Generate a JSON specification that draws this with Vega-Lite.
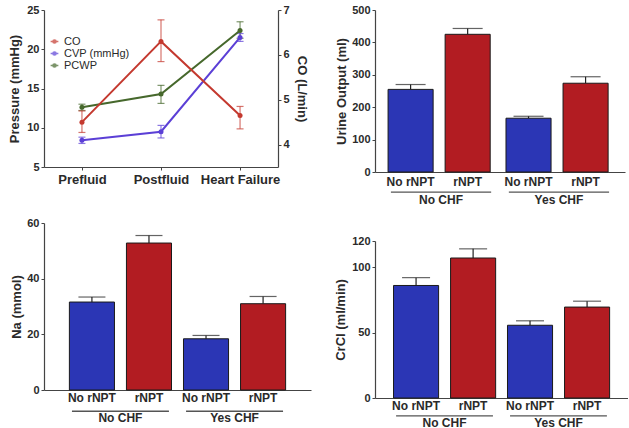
{
  "$schema": "https://vega.github.io/schema/vega-lite/v6.json",
  "background": "white",
  "padding": {"left": 8, "top": 4, "right": 0, "bottom": 0},
  "config": {
    "font": "Liberation Sans",
    "view": {"stroke": null},
    "axis": {
      "labelFont": "Liberation Sans", "labelFontWeight": "bold", "labelFontSize": 11, "labelColor": "#2a2a2a",
      "titleFont": "Liberation Sans", "titleFontWeight": "bold", "titleFontSize": 13, "titleColor": "#2a2a2a",
      "domainColor": "#444", "tickColor": "#444", "tickSize": 3, "labelPadding": 2, "grid": false, "domainWidth": 1.2,
      "labelOverlap": false
    }
  },
  "spacing": 23,
  "resolve": {"scale": {"color": "independent"}, "legend": {"color": "independent"}},
  "hconcat": [
    {
      "spacing": 31,
      "resolve": {"scale": {"color": "independent"}, "legend": {"color": "independent"}},
      "vconcat": [
        {
          "width": 234, "height": 157,
          "data": {"values": [
            {"series": "CO", "time": "Prefluid", "mean": 4.5, "lo": 4.27, "hi": 4.75},
            {"series": "CO", "time": "Postfluid", "mean": 6.3, "lo": 5.85, "hi": 6.78},
            {"series": "CO", "time": "Heart Failure", "mean": 4.65, "lo": 4.35, "hi": 4.85},
            {"series": "CVP (mmHg)", "time": "Prefluid", "mean": 8.4, "lo": 8.0, "hi": 8.8},
            {"series": "CVP (mmHg)", "time": "Postfluid", "mean": 9.5, "lo": 8.7, "hi": 10.3},
            {"series": "CVP (mmHg)", "time": "Heart Failure", "mean": 21.5, "lo": 21.0, "hi": 22.0},
            {"series": "PCWP", "time": "Prefluid", "mean": 12.6, "lo": 12.2, "hi": 13.0},
            {"series": "PCWP", "time": "Postfluid", "mean": 14.3, "lo": 13.1, "hi": 15.4},
            {"series": "PCWP", "time": "Heart Failure", "mean": 22.4, "lo": 21.4, "hi": 23.5}
          ]},
          "encoding": {
            "x": {"field": "time", "type": "nominal", "sort": ["Prefluid", "Postfluid", "Heart Failure"],
                  "scale": {"type": "point", "padding": 0.48},
                  "axis": {"title": null, "labelAngle": 0, "labelFontSize": 13, "labelPadding": 3}},
            "color": {"field": "series", "type": "nominal",
                      "scale": {"domain": ["CO", "CVP (mmHg)", "PCWP"], "range": ["#c4392f", "#5b3fd6", "#46682c"]},
                      "legend": {"title": null, "orient": "none", "legendX": 5, "legendY": 26,
                                 "labelFontSize": 11, "labelFontWeight": "normal", "labelColor": "#2a2a2a",
                                 "symbolType": "M-1,0H1M0.4,0A0.4,0.4,0,1,1,-0.4,0A0.4,0.4,0,1,1,0.4,0",
                                 "symbolSize": 60, "symbolStrokeWidth": 1.6, "rowPadding": 0, "labelOffset": 4}}
          },
          "layer": [
            {
              "transform": [{"filter": "datum.series != 'CO'"}],
              "encoding": {
                "y": {"field": "mean", "type": "quantitative", "title": "Pressure (mmHg)",
                      "scale": {"domain": [5, 25], "nice": false},
                      "axis": {"values": [5, 10, 15, 20, 25], "tickCount": 10, "format": "d", "titlePadding": 5}}
              },
              "layer": [
                {"mark": {"type": "rule", "strokeWidth": 1.2, "opacity": 0.7},
                 "encoding": {"y": {"field": "lo", "type": "quantitative", "title": "Pressure (mmHg)"}, "y2": {"field": "hi"}}},
                {"mark": {"type": "tick", "size": 7, "thickness": 1.2, "opacity": 0.7},
                 "encoding": {"y": {"field": "lo", "type": "quantitative", "title": "Pressure (mmHg)"}}},
                {"mark": {"type": "tick", "size": 7, "thickness": 1.2, "opacity": 0.7},
                 "encoding": {"y": {"field": "hi", "type": "quantitative", "title": "Pressure (mmHg)"}}},
                {"mark": {"type": "line", "strokeWidth": 2}},
                {"mark": {"type": "point", "filled": true, "size": 25, "opacity": 1}}
              ]
            },
            {
              "transform": [{"filter": "datum.series == 'CO'"}],
              "encoding": {
                "y": {"field": "mean", "type": "quantitative", "title": "CO (L/min)",
                      "scale": {"domain": [3.5, 7], "nice": false},
                      "axis": {"orient": "right", "values": [4, 5, 6, 7], "format": "d", "titlePadding": 5}}
              },
              "layer": [
                {"mark": {"type": "rule", "strokeWidth": 1.2, "opacity": 0.7},
                 "encoding": {"y": {"field": "lo", "type": "quantitative", "title": "CO (L/min)"}, "y2": {"field": "hi"}}},
                {"mark": {"type": "tick", "size": 7, "thickness": 1.2, "opacity": 0.7},
                 "encoding": {"y": {"field": "lo", "type": "quantitative", "title": "CO (L/min)"}}},
                {"mark": {"type": "tick", "size": 7, "thickness": 1.2, "opacity": 0.7},
                 "encoding": {"y": {"field": "hi", "type": "quantitative", "title": "CO (L/min)"}}},
                {"mark": {"type": "line", "strokeWidth": 2}},
                {"mark": {"type": "point", "filled": true, "size": 25, "opacity": 1}}
              ]
            }
          ],
          "resolve": {"scale": {"y": "independent"}}
        },
        {
          "width": 267, "height": 167,
          "data": {"values": [
            {"grp": "No CHF", "trt": "No rNPT", "val": 31.6, "hi": 33.4},
            {"grp": "No CHF", "trt": "rNPT", "val": 52.8, "hi": 55.5},
            {"grp": "Yes CHF", "trt": "No rNPT", "val": 18.4, "hi": 19.6},
            {"grp": "Yes CHF", "trt": "rNPT", "val": 31.0, "hi": 33.6}
          ]},
          "encoding": {
            "x": {"field": "grp", "type": "nominal", "sort": ["No CHF", "Yes CHF"],
                  "scale": {"paddingInner": 0, "paddingOuter": 0.17},
                  "axis": {"title": null, "labelAngle": 0, "ticks": false, "labelPadding": 22, "labelFontSize": 12}}
          },
          "layer": [
            {"mark": {"type": "rule", "color": "#222", "strokeWidth": 1.2},
             "encoding": {"xOffset": {"field": "trt", "type": "nominal", "sort": ["No rNPT", "rNPT"], "scale": {"paddingInner": 0.21, "paddingOuter": 0.105}},
                          "y": {"field": "val", "type": "quantitative", "title": "Na  (mmol)", "scale": {"domain": [0, 60], "nice": false},
                                "axis": {"values": [0, 20, 40, 60], "tickCount": 10, "format": "d", "titlePadding": 3}},
                          "y2": {"field": "hi"}}},
            {"mark": {"type": "tick", "color": "#222", "size": 27, "thickness": 1.2},
             "encoding": {"xOffset": {"field": "trt", "type": "nominal", "sort": ["No rNPT", "rNPT"]},
                          "y": {"field": "hi", "type": "quantitative", "title": "Na  (mmol)", "axis": {"values": [0, 20, 40, 60], "tickCount": 10, "format": "d", "titlePadding": 3}}}},
            {"mark": {"type": "bar", "stroke": "#1a1a1a", "strokeWidth": 1},
             "encoding": {"xOffset": {"field": "trt", "type": "nominal", "sort": ["No rNPT", "rNPT"]},
                          "y": {"field": "val", "type": "quantitative", "title": "Na  (mmol)", "axis": {"values": [0, 20, 40, 60], "tickCount": 10, "format": "d", "titlePadding": 3}},
                          "color": {"field": "trt", "type": "nominal", "scale": {"domain": ["No rNPT", "rNPT"], "range": ["#2b36b5", "#b21c22"]}, "legend": null}}},
            {"mark": {"type": "text", "baseline": "top", "dy": 3, "fontSize": 12, "fontWeight": "bold", "color": "#2a2a2a"},
             "encoding": {"xOffset": {"field": "trt", "type": "nominal", "sort": ["No rNPT", "rNPT"]},
                          "y": {"datum": 0}, "text": {"field": "trt"}}},
            {"data": {"values": [{"grp": "No CHF"}, {"grp": "Yes CHF"}]},
             "mark": {"type": "bar", "color": "#555", "width": {"band": 0.85}},
             "encoding": {"y": {"datum": -7.4}, "y2": {"datum": -7.9}}}
          ]
        }
      ]
    },
    {
      "spacing": 30,
      "resolve": {"scale": {"color": "independent"}, "legend": {"color": "independent"}},
      "vconcat": [
        {
          "width": 250, "height": 162,
          "data": {"values": [
            {"grp": "No CHF", "trt": "No rNPT", "val": 255, "hi": 270},
            {"grp": "No CHF", "trt": "rNPT", "val": 425, "hi": 443},
            {"grp": "Yes CHF", "trt": "No rNPT", "val": 166, "hi": 172},
            {"grp": "Yes CHF", "trt": "rNPT", "val": 274, "hi": 294}
          ]},
          "encoding": {
            "x": {"field": "grp", "type": "nominal", "sort": ["No CHF", "Yes CHF"],
                  "scale": {"paddingInner": 0, "paddingOuter": 0.06},
                  "axis": {"title": null, "labelAngle": 0, "ticks": false, "labelPadding": 22, "labelFontSize": 12}}
          },
          "layer": [
            {"mark": {"type": "rule", "color": "#222", "strokeWidth": 1.2},
             "encoding": {"xOffset": {"field": "trt", "type": "nominal", "sort": ["No rNPT", "rNPT"], "scale": {"paddingInner": 0.107, "paddingOuter": 0.107}},
                          "y": {"field": "val", "type": "quantitative", "title": "Urine Output (ml)", "scale": {"domain": [0, 500], "nice": false},
                                "axis": {"values": [0, 100, 200, 300, 400, 500], "tickCount": 10, "format": "d", "titlePadding": 3}},
                          "y2": {"field": "hi"}}},
            {"mark": {"type": "tick", "color": "#222", "size": 30, "thickness": 1.2},
             "encoding": {"xOffset": {"field": "trt", "type": "nominal", "sort": ["No rNPT", "rNPT"]},
                          "y": {"field": "hi", "type": "quantitative", "title": "Urine Output (ml)", "axis": {"values": [0, 100, 200, 300, 400, 500], "tickCount": 10, "format": "d", "titlePadding": 3}}}},
            {"mark": {"type": "bar", "stroke": "#1a1a1a", "strokeWidth": 1},
             "encoding": {"xOffset": {"field": "trt", "type": "nominal", "sort": ["No rNPT", "rNPT"]},
                          "y": {"field": "val", "type": "quantitative", "title": "Urine Output (ml)", "axis": {"values": [0, 100, 200, 300, 400, 500], "tickCount": 10, "format": "d", "titlePadding": 3}},
                          "color": {"field": "trt", "type": "nominal", "scale": {"domain": ["No rNPT", "rNPT"], "range": ["#2b36b5", "#b21c22"]}, "legend": null}}},
            {"mark": {"type": "text", "baseline": "top", "dy": 5, "fontSize": 12, "fontWeight": "bold", "color": "#2a2a2a"},
             "encoding": {"xOffset": {"field": "trt", "type": "nominal", "sort": ["No rNPT", "rNPT"]},
                          "y": {"datum": 0}, "text": {"field": "trt"}}},
            {"data": {"values": [{"grp": "No CHF"}, {"grp": "Yes CHF"}]},
             "mark": {"type": "bar", "color": "#555", "width": {"band": 0.85}},
             "encoding": {"y": {"datum": -60}, "y2": {"datum": -64}}}
          ]
        },
        {
          "width": 253, "height": 157,
          "data": {"values": [
            {"grp": "No CHF", "trt": "No rNPT", "val": 86, "hi": 92},
            {"grp": "No CHF", "trt": "rNPT", "val": 107, "hi": 114},
            {"grp": "Yes CHF", "trt": "No rNPT", "val": 55.6, "hi": 59},
            {"grp": "Yes CHF", "trt": "rNPT", "val": 69.5, "hi": 74}
          ]},
          "encoding": {
            "x": {"field": "grp", "type": "nominal", "sort": ["No CHF", "Yes CHF"],
                  "scale": {"paddingInner": 0, "paddingOuter": 0.11},
                  "axis": {"title": null, "labelAngle": 0, "ticks": false, "labelPadding": 19, "labelFontSize": 12}}
          },
          "layer": [
            {"mark": {"type": "rule", "color": "#222", "strokeWidth": 1.2},
             "encoding": {"xOffset": {"field": "trt", "type": "nominal", "sort": ["No rNPT", "rNPT"], "scale": {"paddingInner": 0.145, "paddingOuter": 0.109}},
                          "y": {"field": "val", "type": "quantitative", "title": "CrCl (ml/min)", "scale": {"domain": [0, 120], "nice": false},
                                "axis": {"values": [0, 50, 100, 120], "tickCount": 10, "format": "d", "titlePadding": 4}},
                          "y2": {"field": "hi"}}},
            {"mark": {"type": "tick", "color": "#222", "size": 28, "thickness": 1.2},
             "encoding": {"xOffset": {"field": "trt", "type": "nominal", "sort": ["No rNPT", "rNPT"]},
                          "y": {"field": "hi", "type": "quantitative", "title": "CrCl (ml/min)", "axis": {"values": [0, 50, 100, 120], "tickCount": 10, "format": "d", "titlePadding": 4}}}},
            {"mark": {"type": "bar", "stroke": "#1a1a1a", "strokeWidth": 1},
             "encoding": {"xOffset": {"field": "trt", "type": "nominal", "sort": ["No rNPT", "rNPT"]},
                          "y": {"field": "val", "type": "quantitative", "title": "CrCl (ml/min)", "axis": {"values": [0, 50, 100, 120], "tickCount": 10, "format": "d", "titlePadding": 4}},
                          "color": {"field": "trt", "type": "nominal", "scale": {"domain": ["No rNPT", "rNPT"], "range": ["#2b36b5", "#b21c22"]}, "legend": null}}},
            {"mark": {"type": "text", "baseline": "top", "dy": 3, "fontSize": 12, "fontWeight": "bold", "color": "#2a2a2a"},
             "encoding": {"xOffset": {"field": "trt", "type": "nominal", "sort": ["No rNPT", "rNPT"]},
                          "y": {"datum": 0}, "text": {"field": "trt"}}},
            {"data": {"values": [{"grp": "No CHF"}, {"grp": "Yes CHF"}]},
             "mark": {"type": "bar", "color": "#555", "width": {"band": 0.85}},
             "encoding": {"y": {"datum": -13.2}, "y2": {"datum": -14.2}}}
          ]
        }
      ]
    }
  ]
}
